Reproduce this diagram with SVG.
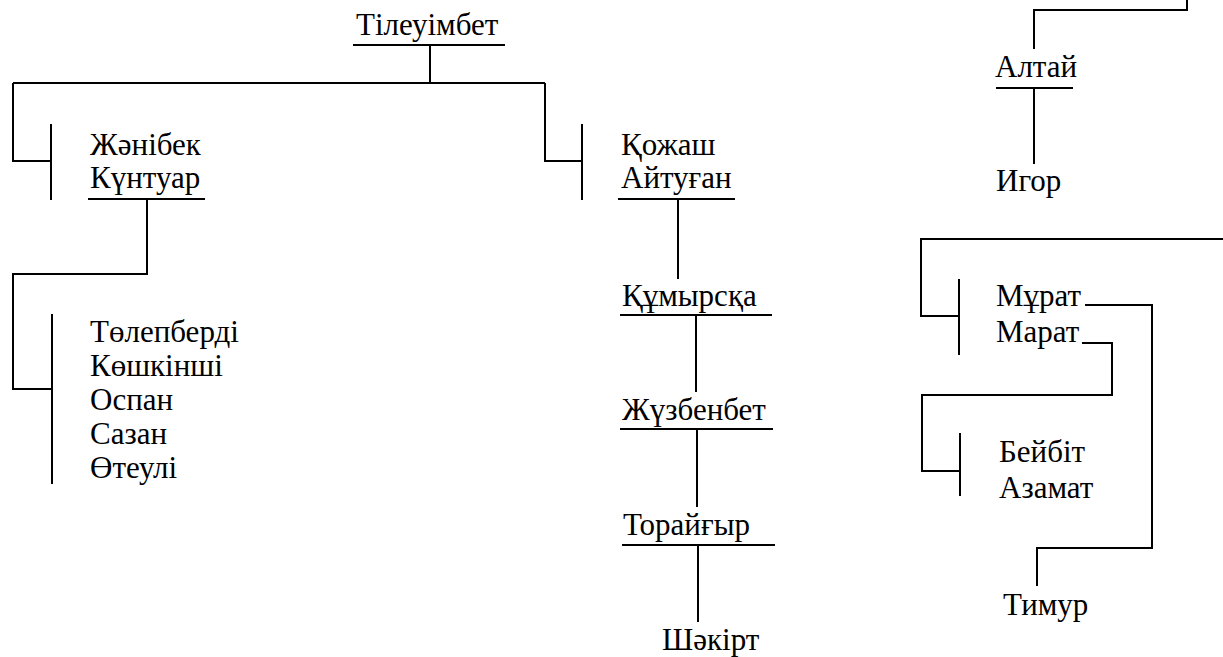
<svg xmlns="http://www.w3.org/2000/svg" width="1223" height="657" viewBox="0 0 1223 657">
<style>
text{font-family:"Liberation Serif","Times New Roman",serif;font-size:31px;fill:#000}
.c line,.c polyline{stroke:#000;stroke-width:2;fill:none}
</style>
<rect width="1223" height="657" fill="#fff"/>
<g class="c" id="connectors">
<line x1="353" y1="45" x2="505" y2="45"/>
<polyline points="430,45 430,83"/>
<polyline points="13,83 545,83"/>
<polyline points="13,83 13,161 51,161"/>
<line x1="51" y1="124" x2="51" y2="200"/>
<polyline points="545,83 545,161 582,161"/>
<line x1="582" y1="124" x2="582" y2="200"/>
<line x1="88" y1="199" x2="205" y2="199"/>
<polyline points="147,199 147,274 13,274 13,389 52,389"/>
<line x1="52" y1="314" x2="52" y2="484"/>
<line x1="618" y1="199" x2="735" y2="199"/>
<line x1="678" y1="199" x2="678" y2="279"/>
<line x1="620" y1="315" x2="772" y2="315"/>
<line x1="696" y1="315" x2="696" y2="392"/>
<line x1="620" y1="429" x2="773" y2="429"/>
<line x1="697" y1="429" x2="697" y2="507"/>
<line x1="622" y1="545" x2="775" y2="545"/>
<line x1="698" y1="545" x2="698" y2="622"/>
<polyline points="1187,0 1187,10 1034,10 1034,49"/>
<line x1="996" y1="88" x2="1073" y2="88"/>
<line x1="1034" y1="88" x2="1034" y2="164"/>
<polyline points="1223,239 921,239 921,316 959,316"/>
<line x1="959" y1="279" x2="959" y2="355"/>
<polyline points="1085,305 1152,305 1152,548 1037,548 1037,586"/>
<polyline points="1082,343 1112,343 1112,395 922,395 922,471 960,471"/>
<line x1="960" y1="433" x2="960" y2="496"/>
</g>
<g id="n-tileuimbet"><text x="356" y="35">Тілеуімбет</text></g>
<g id="n-zhanibek"><text x="90" y="155">Жәнібек</text></g>
<g id="n-kuntuar"><text x="90" y="188">Күнтуар</text></g>
<g id="n-kuntuar-sons">
<text x="90" y="342">Төлепберді</text>
<text x="90" y="376">Көшкінші</text>
<text x="90" y="410">Оспан</text>
<text x="90" y="444">Сазан</text>
<text x="90" y="478">Өтеулі</text>
</g>
<g id="n-kozhash"><text x="621" y="155">Қожаш</text></g>
<g id="n-aytugan"><text x="621" y="188">Айтуған</text></g>
<g id="n-kumyrska"><text x="622" y="306">Құмырсқа</text></g>
<g id="n-zhuzbenbet"><text x="622" y="420">Жүзбенбет</text></g>
<g id="n-toraygyr"><text x="623" y="535">Торайғыр</text></g>
<g id="n-shakirt"><text x="662" y="650">Шәкірт</text></g>
<g id="n-altay"><text x="995" y="77">Алтай</text></g>
<g id="n-igor"><text x="996" y="191">Игор</text></g>
<g id="n-murat1"><text x="996" y="306">Мұрат</text></g>
<g id="n-marat"><text x="996" y="342">Марат</text></g>
<g id="n-beybit"><text x="999" y="462">Бейбіт</text></g>
<g id="n-azamat"><text x="999" y="498">Азамат</text></g>
<g id="n-timur"><text x="1003" y="615">Тимур</text></g>
</svg>
